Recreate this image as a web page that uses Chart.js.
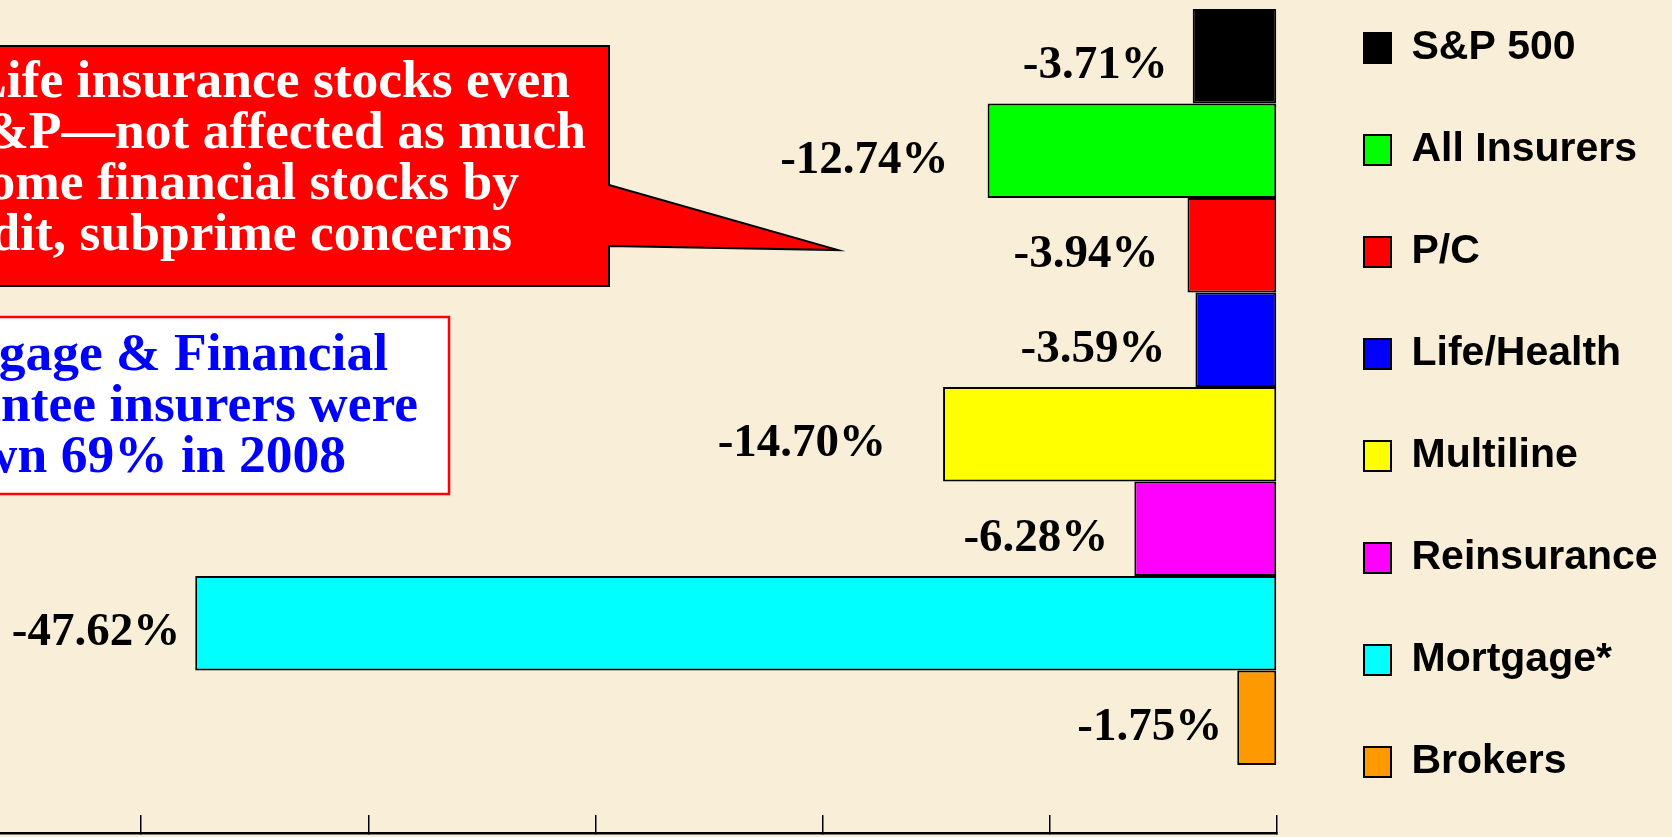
<!DOCTYPE html>
<html>
<head>
<meta charset="utf-8">
<title>Insurance segment stock performance</title>
<script src="https://cdn.jsdelivr.net/npm/chart.js@4/dist/chart.umd.min.js"></script>
<style>
  html, body { margin: 0; padding: 0; width: 1672px; height: 837px; overflow: hidden; background: #F9EFD9; }
  /* the slide is framed so the chart runs off the left and top edges */
  #wrap { position: absolute; left: -86px; top: -59px; width: 1758px; height: 928px; }
</style>
</head>
<body>
<div id="wrap"><canvas id="chart" width="1758" height="928"></canvas></div>
<script>
// Segment returns (%)
const categories = ['S&P 500', 'All Insurers', 'P/C', 'Life/Health', 'Multiline', 'Reinsurance', 'Mortgage*', 'Brokers'];
const changes = [-3.71, -12.74, -3.94, -3.59, -14.70, -6.28, -47.62, -1.75];
const barColors = ['#000000', '#00FF00', '#FF0000', '#0000FF', '#FFFF00', '#FF00FF', '#00FFFF', '#FF9900'];

// Annotation text
const calloutLines = ['Life insurance stocks even', 'with S&P\u2014not affected as much', 'as some financial stocks by', 'credit, subprime concerns'];
const noteLines = ['Mortgage & Financial', 'Guarantee insurers were', 'down 69% in 2008'];

// Canvas is shifted up/left of the page; page coordinates are converted with these
const SHIFT_X = 86, SHIFT_Y = 59;
const CANVAS_W = 1758;
const px = x => x + SHIFT_X;
const py = y => y + SHIFT_Y;

// Legend geometry: items start at a fixed page position, so the right padding
// is worked out from the widest legend label
const LEGEND_FONT = { family: '"Liberation Sans", Arial, sans-serif', size: 41, weight: 'bold' };
const LEGEND_BOX_W = 27, LEGEND_PAD = 61;
const LEGEND_LEFT = px(1303);
const measureCtx = document.createElement('canvas').getContext('2d');
measureCtx.font = 'bold 41px "Liberation Sans", Arial, sans-serif';
const widestLabel = Math.max(...categories.map(c => measureCtx.measureText(c).width));
const legendWidth = LEGEND_PAD + LEGEND_BOX_W + LEGEND_FONT.size / 2 + widestLabel + 10;
const rightPad = Math.max(0, CANVAS_W - LEGEND_LEFT - legendWidth);

// Distance between each value label and the end of its bar
const labelGaps = [25, 39, 29, 30, 57, 26, 15, 15];

const valueLabels = {
  id: 'valueLabels',
  afterDatasetsDraw(chart) {
    const ctx = chart.ctx;
    ctx.save();
    ctx.font = 'bold 47px "Liberation Serif", "Times New Roman", serif';
    ctx.fillStyle = '#000';
    ctx.textAlign = 'right';
    ctx.textBaseline = 'alphabetic';
    chart.data.datasets.forEach((ds, i) => {
      const bar = chart.getDatasetMeta(i).data[0];
      ctx.fillText(ds.data[0].toFixed(2) + '%', bar.x - labelGaps[i], bar.y + 22);
    });
    ctx.restore();
  }
};

const callouts = {
  id: 'callouts',
  afterDraw(chart) {
    const ctx = chart.ctx;
    ctx.save();
    // red speech callout with its pointer
    ctx.beginPath();
    ctx.moveTo(px(-300), py(46));
    ctx.lineTo(px(609), py(46));
    ctx.lineTo(px(609), py(185));
    ctx.lineTo(px(838), py(250));
    ctx.lineTo(px(609), py(246));
    ctx.lineTo(px(609), py(286));
    ctx.lineTo(px(-300), py(286));
    ctx.closePath();
    ctx.fillStyle = '#FF0000';
    ctx.fill();
    ctx.lineWidth = 2;
    ctx.strokeStyle = '#000';
    ctx.lineJoin = 'miter';
    ctx.stroke();

    ctx.font = 'bold 53.5px "Liberation Serif", "Times New Roman", serif';
    ctx.textAlign = 'right';
    ctx.textBaseline = 'alphabetic';
    ctx.fillStyle = '#FFFFFF';
    const calloutRight = [570, 586, 519, 512];
    calloutLines.forEach((t, i) => ctx.fillText(t, px(calloutRight[i]), py(97 + i * 51)));

    // white note box
    ctx.fillStyle = '#FFFFFF';
    ctx.fillRect(px(-300), py(317), 749, 177);
    ctx.lineWidth = 2.5;
    ctx.strokeStyle = '#FF0000';
    ctx.strokeRect(px(-300), py(317), 749, 177);
    ctx.fillStyle = '#0000FF';
    const noteRight = [388, 418, 346];
    noteLines.forEach((t, i) => ctx.fillText(t, px(noteRight[i]), py(370 + i * 51)));
    ctx.restore();
  }
};

const datasets = categories.map((name, i) => ({
  label: name,
  data: [changes[i]],
  backgroundColor: barColors[i],
  borderColor: '#000',
  borderWidth: 2,
  borderSkipped: false,
  categoryPercentage: 0.8475,
  barPercentage: 1
}));

new Chart(document.getElementById('chart'), {
  type: 'bar',
  data: { labels: [''], datasets },
  plugins: [valueLabels, callouts],
  options: {
    indexAxis: 'y',
    responsive: false,
    animation: false,
    devicePixelRatio: 1,
    layout: { padding: { left: 0, top: 0, right: rightPad, bottom: 0 } },
    scales: {
      x: {
        type: 'linear',
        min: -60,
        max: 0,
        ticks: { stepSize: 10, display: false },
        grid: { display: true, drawOnChartArea: false, drawTicks: true, tickLength: -18, color: '#000', lineWidth: 1.5 },
        border: { display: true, color: '#000', width: 2.5 },
        afterFit(scale) { scale.height = 36; }
      },
      y: {
        position: 'right',
        ticks: { display: false },
        grid: { display: false, drawTicks: false },
        border: { display: false },
        afterFit(scale) { scale.width = 26; }
      }
    },
    plugins: {
      tooltip: { enabled: false },
      legend: {
        position: 'right',
        align: 'center',
        labels: {
          boxWidth: LEGEND_BOX_W,
          boxHeight: 30,
          padding: LEGEND_PAD,
          color: '#000',
          font: LEGEND_FONT
        }
      }
    }
  }
});
</script>
</body>
</html>
